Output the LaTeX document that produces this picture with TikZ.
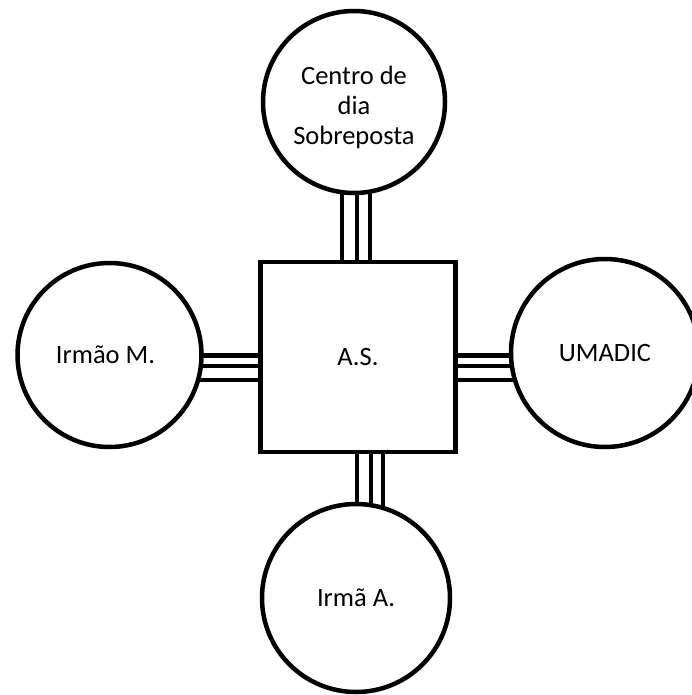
\documentclass[tikz,border=0pt]{standalone}
\usepackage{fontspec}
\setmainfont{Carlito}
\usetikzlibrary{backgrounds}
\begin{document}
\begin{tikzpicture}[x=1pt,y=-1pt,
  label font/.style={font=\fontsize{26.5}{30}\selectfont},
  party/.style={circle,draw,line width=4.5pt,fill=white,inner sep=0pt,
    align=center,label font},
  caption/.style={inner sep=0pt,align=center,label font},
  hub/.style={rectangle,draw,line width=4.5pt,fill=white,inner sep=0pt,
    minimum width=195pt,minimum height=190pt,label font},
  link/.style={line width=4.5pt}]
\useasboundingbox (0,0) rectangle (692,695);
\clip (0,0) rectangle (692,695);

% central square and the four circles around it
\node[hub] (as) at (358,357) {A.S.};
\node[party,minimum size=182pt] (cd) at (354,102) {};
\node[caption] (cdtext) at ([yshift=-5pt]cd.center) {Centro de\\dia\\Sobreposta};
\node[party,minimum size=184pt] (im) at (109.5,355) {};
\node[caption] (imtext) at ([xshift=-4pt]im.center) {Irmão M.};
\node[party,minimum size=188pt] (um) at (605,353) {UMADIC};
\node[party,minimum size=188pt] (ia) at (356,598) {Irmã A.};

% triple links, drawn behind the filled shapes
\begin{scope}[on background layer]
  \foreach \dx in {-16,-1,12}
    \draw[link] ([xshift=\dx pt]as.north) -- ([xshift=\dx pt]as.north |- cd.center);
  \foreach \dx in {-1,13,25}
    \draw[link] ([xshift=\dx pt]as.south) -- ([xshift=\dx pt]as.south |- ia.center);
  \foreach \dy in {1.5,-9,-23}
    \draw[link] ([yshift=\dy pt]as.west) -- ([yshift=\dy pt]as.west -| im.center);
  \foreach \dy in {1.5,-9,-23}
    \draw[link] ([yshift=\dy pt]as.east) -- ([yshift=\dy pt]as.east -| um.center);
\end{scope}
\end{tikzpicture}
\end{document}
